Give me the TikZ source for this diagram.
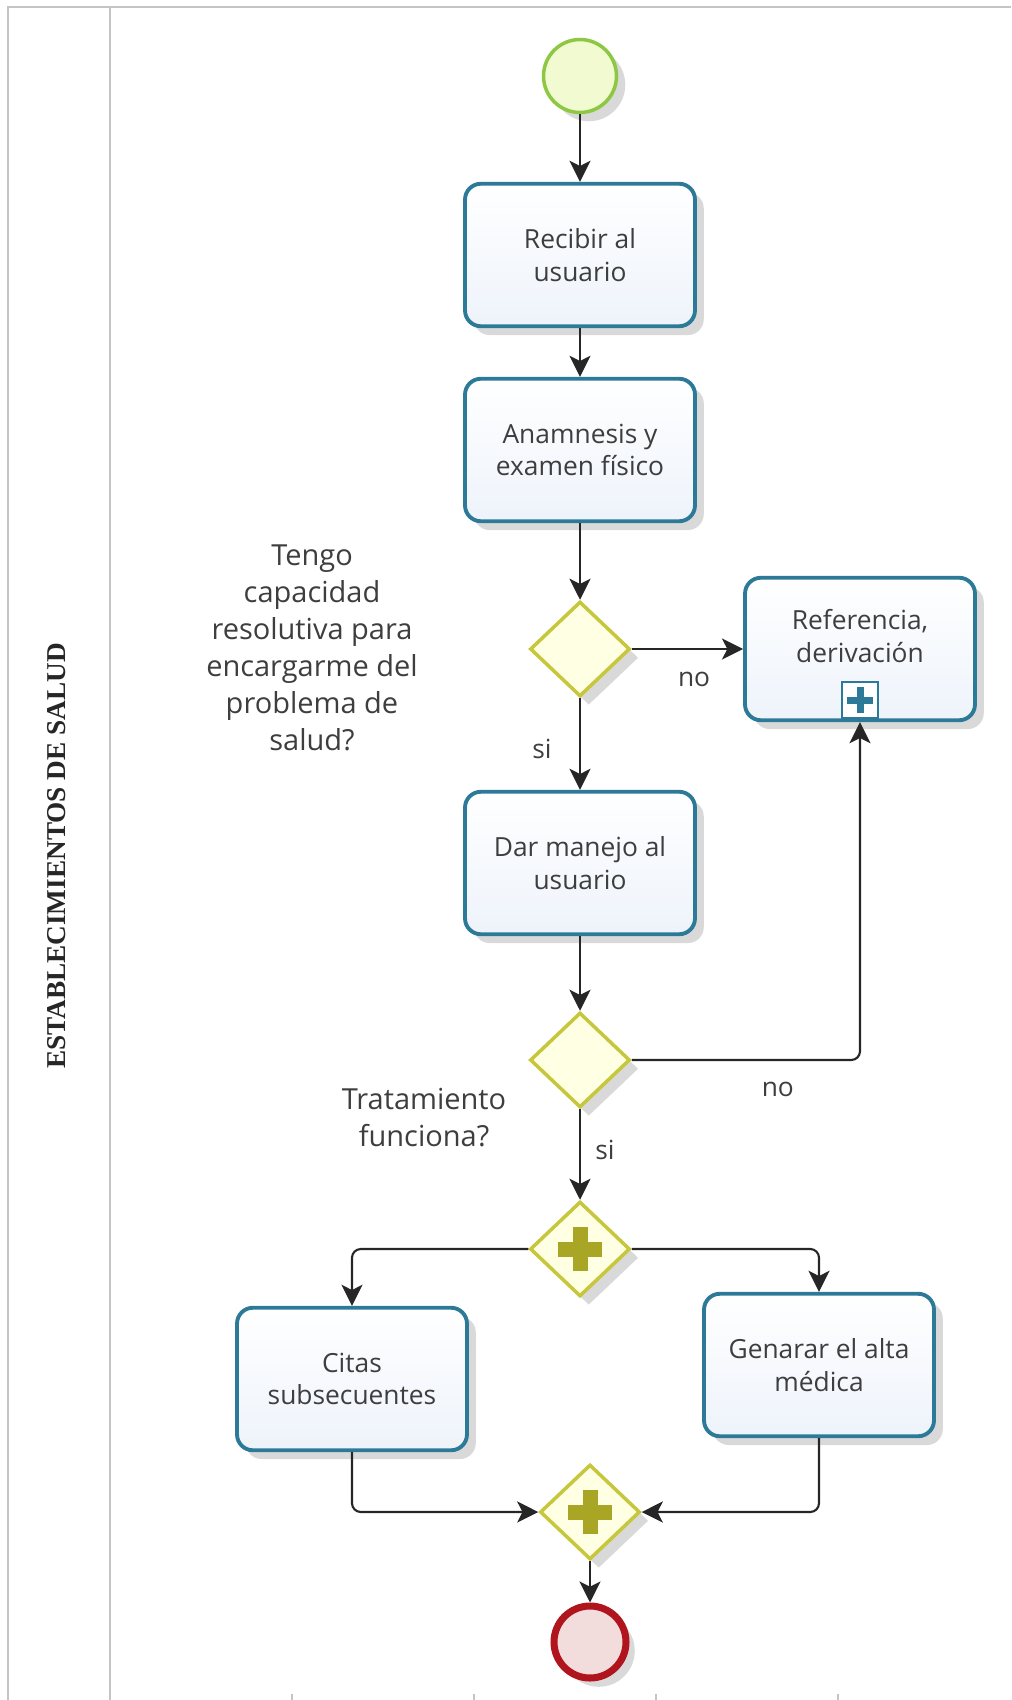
\documentclass[tikz,border=0pt]{standalone}
\usepackage{fontspec}
\setmainfont{Open Sans}
\newfontfamily\lanefont{Liberation Serif}
\usetikzlibrary{arrows.meta, shapes.geometric, shadows}

\definecolor{taskline}{HTML}{2D7A98}
\definecolor{taskfill}{HTML}{EEF3FB}
\definecolor{gateline}{HTML}{C6C73C}
\definecolor{gatefill}{HTML}{FFFFE4}
\definecolor{gateplus}{HTML}{A9A626}
\definecolor{startline}{HTML}{8EC742}
\definecolor{startfill}{HTML}{F1FAD0}
\definecolor{endline}{HTML}{B0141C}
\definecolor{endfill}{HTML}{F3DCDC}
\definecolor{flowline}{HTML}{262626}
\definecolor{textgray}{HTML}{3E3E3E}
\definecolor{laneline}{HTML}{C4C4C4}

\tikzset{
  softshadow/.style={drop shadow={shadow xshift=5pt, shadow yshift=-5pt, opacity=0.15, fill=black}},
  task/.style={draw=taskline, line width=2.2pt, top color=white, bottom color=taskfill,
    rounded corners=9pt, minimum width=4.6cm, minimum height=2.85cm, align=center,
    text=textgray, font=\fontsize{15}{18.5}\selectfont, softshadow},
  tasktext/.style={align=center, text=textgray, font=\fontsize{15}{18.5}\selectfont},
  gate/.style={diamond, draw=gateline, line width=2pt, fill=gatefill,
    minimum width=2cm, minimum height=1.9cm, inner sep=0pt, softshadow},
  startev/.style={circle, draw=startline, line width=2pt, fill=startfill,
    minimum size=1.46cm, softshadow},
  endev/.style={circle, draw=endline, line width=4pt, fill=endfill,
    minimum size=1.44cm, softshadow},
  submark/.style={rectangle, draw=taskline, line width=1.6pt, fill=white,
    minimum size=0.72cm, inner sep=0pt},
  flow/.style={draw=flowline, line width=1.2pt, rounded corners=5pt,
    -{Stealth[length=12pt, width=12pt, inset=3pt]}},
  flowlabel/.style={text=textgray, font=\fontsize{15}{18}\selectfont},
  question/.style={align=center, text=textgray, font=\fontsize{16.5}{21}\selectfont},
  lanetitle/.style={font=\lanefont\bfseries\fontsize{15.5}{18}\selectfont, text=black!85},
  laneborder/.style={draw=laneline, line width=1.6pt},
  lanediv/.style={draw=laneline, line width=0.8pt},
}

\begin{document}
\begin{tikzpicture}[x=0.02cm, y=-0.02cm]
    % --- macro: cruz del gateway paralelo ---
    \newcommand{\gplus}[1]{
        \draw[gateplus, line width=0.3cm] (#1.center) +(-22,0) -- +(22,0);
        \draw[gateplus, line width=0.3cm] (#1.center) +(0,-22) -- +(0,22);
    }

    % --- marco del carril ---
    \useasboundingbox (0,0) rectangle (1011,1700);
    \draw[laneborder] (8,1700) -- (8,7) -- (1011,7);
    \draw[lanediv] (110,7) -- (110,1700);
    \foreach \tx in {292,474,656,838}
        \draw[lanediv] (\tx,1700) -- (\tx,1694);
    \node[lanetitle, rotate=90] (carril) at (57,856) {ESTABLECIMIENTOS DE SALUD};

    % --- eventos, tareas y gateways ---
    \node[startev] (inicio) at (580,76) {};
    \node[task] (recibir) at (580,255) {Recibir al\\usuario};
    \node[task] (anamnesis) at (580,450) {Anamnesis y\\examen físico};
    \node[gate] (capacidad) at (580,649) {};
    \node[task] (referencia) at (860,649) {};
    \node[tasktext] (referenciatxt) at (860,636) {Referencia,\\derivación};
    \node[submark] (subproceso) at (860,700) {};
    \draw[taskline, line width=0.14cm] (subproceso.center) +(-13,0) -- +(13,0);
    \draw[taskline, line width=0.14cm] (subproceso.center) +(0,-13) -- +(0,13);
    \node[task] (manejo) at (580,863) {Dar manejo al\\usuario};
    \node[gate] (funciona) at (580,1060) {};
    \node[gate] (bifurca) at (580,1249) {};
    \gplus{bifurca}
    \node[task] (citas) at (352,1379) {Citas\\subsecuentes};
    \node[task] (alta) at (819,1365) {Genarar el alta\\médica};
    \node[gate] (une) at (590,1512) {};
    \gplus{une}
    \node[endev] (fin) at (590,1642) {};

    % --- preguntas ---
    \node[question] (pregunta1) at (312,648) {Tengo\\capacidad\\resolutiva para\\encargarme del\\problema de\\salud?};
    \node[question] (pregunta2) at (424,1118) {Tratamiento\\funciona?};

    % --- flujos ---
    \draw[flow] (inicio) -- (recibir);
    \draw[flow] (recibir) -- (anamnesis);
    \draw[flow] (anamnesis) -- (capacidad);
    \draw[flow] (capacidad.east) -- (referencia.west)
        node[flowlabel, pos=0.56, yshift=-0.6cm] {no};
    \draw[flow] (capacidad.south) -- (manejo.north)
        node[flowlabel, pos=0.55, xshift=-0.76cm] {si};
    \draw[flow] (manejo) -- (funciona);
    \draw[flow] (funciona.east) -| (referencia.south)
        node[flowlabel, pos=0.32, yshift=-0.58cm] {no};
    \draw[flow] (funciona.south) -- (bifurca.north)
        node[flowlabel, pos=0.45, xshift=0.5cm] {si};
    \draw[flow] (bifurca.west) -| (citas.north);
    \draw[flow] (bifurca.east) -| (alta.north);
    \draw[flow] (citas.south) |- (une.west);
    \draw[flow] (alta.south) |- (une.east);
    \draw[flow] (une.south) -- (fin.north);
\end{tikzpicture}
\end{document}
